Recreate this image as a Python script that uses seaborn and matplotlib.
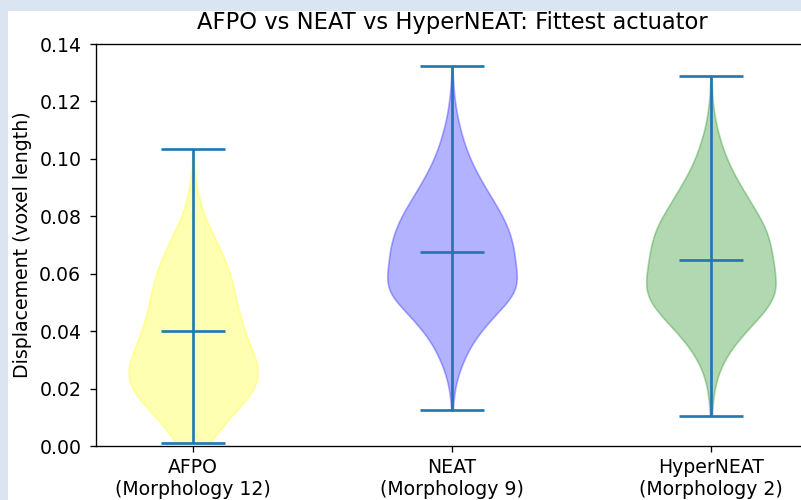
import numpy as np
import pandas as pd
import matplotlib
matplotlib.use("Agg")
import matplotlib.pyplot as plt
from matplotlib.patches import Rectangle
import seaborn as sns

# ---- data ----
categories = ["AFPO\n(Morphology 12)", "NEAT\n(Morphology 9)", "HyperNEAT\n(Morphology 2)"]
colors = ["yellow", "blue", "green"]

# density profile samples: value levels and relative weights
afpo_levels = [0.001, 0.0056, 0.0114, 0.0172, 0.0231, 0.0289, 0.0346, 0.0404, 0.0462,
               0.052, 0.0578, 0.0636, 0.0694, 0.0752, 0.081, 0.0868, 0.0927, 0.0985, 0.1035]
afpo_counts = [28, 45, 78, 110, 130, 123, 108, 98, 88,
               81, 75, 64, 50, 34, 19, 10, 5, 2, 1]
neat_levels = [0.0125, 0.016, 0.0218, 0.0276, 0.0334, 0.0393, 0.045, 0.0509, 0.0567, 0.0625, 0.0683,
               0.0741, 0.0799, 0.0857, 0.0915, 0.0973, 0.1031, 0.1089, 0.1147, 0.1205, 0.1263, 0.132]
neat_counts = [1, 2, 7, 17, 32, 52, 80, 117, 131, 124, 122,
               114, 100, 80, 60, 42, 28, 18, 10, 5, 2, 1]
hyper_levels = [0.0105, 0.0126, 0.0184, 0.0241, 0.030, 0.0358, 0.0416, 0.0474, 0.0532, 0.059, 0.0648,
                0.0706, 0.0764, 0.0822, 0.088, 0.0938, 0.0996, 0.1054, 0.1112, 0.117, 0.1228, 0.1285]
hyper_counts = [1, 2, 5, 12, 26, 48, 78, 110, 131, 128, 123,
                118, 108, 88, 68, 48, 32, 20, 11, 5, 2, 1]

# summary statistics drawn as lines
means = [0.040, 0.0677, 0.0648]
mins = [0.001, 0.0125, 0.0104]
maxs = [0.1035, 0.1323, 0.1288]

title = "AFPO vs NEAT vs HyperNEAT: Fittest actuator"
ylabel = "Displacement (voxel length)"
yticks = [0.00, 0.02, 0.04, 0.06, 0.08, 0.10, 0.12, 0.14]

# ---- build table ----
frames = []
for cat, lv, ct in zip(categories,
                       [afpo_levels, neat_levels, hyper_levels],
                       [afpo_counts, neat_counts, hyper_counts]):
    frames.append(pd.DataFrame({"group": cat, "value": np.repeat(lv, ct)}))
df = pd.concat(frames, ignore_index=True)

plt.rcParams["font.size"] = 11.3
plt.rcParams["axes.titlesize"] = 13.6
plt.rcParams["ytick.major.pad"] = 5.3

W, H, DPI = 801, 500, 120
fig = plt.figure(figsize=(W / DPI, H / DPI), dpi=DPI, facecolor="#dbe5f1")
fig.patches.append(Rectangle((8 / W, 0), 1, 1 - 11 / H, transform=fig.transFigure,
                             facecolor="white", edgecolor="none", zorder=-10))
ax = fig.add_axes([96 / W, 1 - 446 / H, (808 - 96) / W, 402 / H])

sns.violinplot(data=df, x="group", y="value", hue="group", order=categories,
               hue_order=categories, palette=colors, cut=0, inner=None,
               density_norm="width", width=0.5, bw_method=0.22, saturation=1,
               linewidth=1, legend=False, ax=ax)
for coll, c in zip(ax.collections, colors):
    coll.set_facecolor(matplotlib.colors.to_rgba(c, 0.3))
    coll.set_edgecolor(matplotlib.colors.to_rgba(c, 0.3))

pos = np.arange(len(categories))
lc = "#1f77b4"
ax.vlines(pos, mins, maxs, color=lc, lw=1.6, zorder=5)
for arr in (mins, maxs, means):
    ax.hlines(arr, pos - 0.125, pos + 0.125, color=lc, lw=1.6, zorder=5)

ax.set_xlim(-0.375, 2.375)
ax.set_ylim(0, 0.14)
ax.set_yticks(yticks)
ax.set_yticklabels([f"{v:.2f}" for v in yticks])
ax.set_xticks(pos)
ax.set_xticklabels(categories)
ax.set_xlabel("")
ax.set_ylabel(ylabel, labelpad=4.6)
ax.set_title(title, pad=9)
ax.grid(False)

fig.savefig("out.png", dpi=DPI, facecolor=fig.get_facecolor())
